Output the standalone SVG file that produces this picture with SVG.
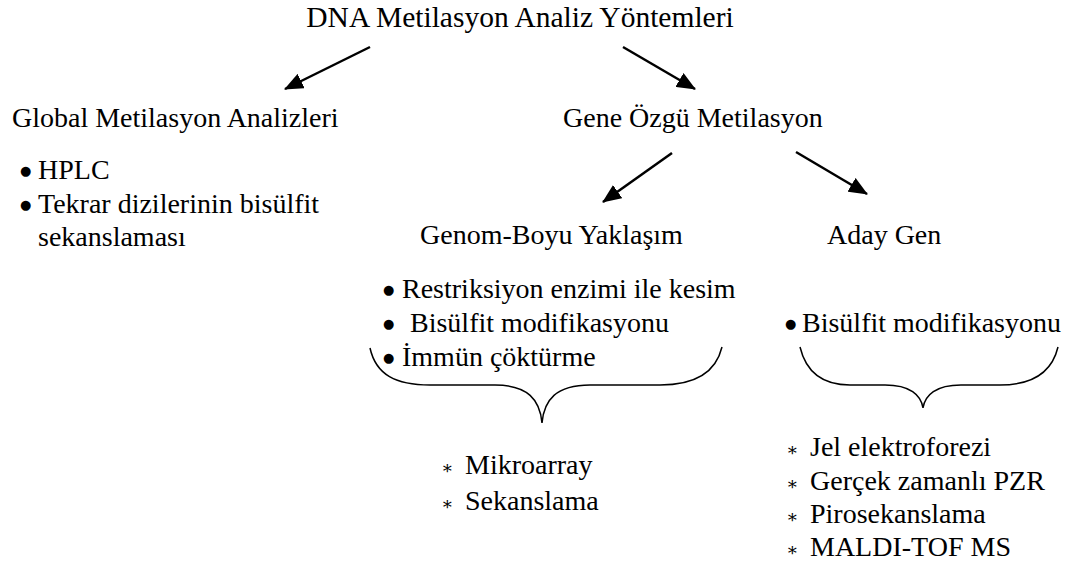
<svg xmlns="http://www.w3.org/2000/svg" width="1088" height="572" viewBox="0 0 1088 572">
<defs>
<style>
.t{font-family:"Liberation Serif","Times New Roman",serif;font-size:28px;fill:#000}
.h{font-family:"Liberation Serif","Times New Roman",serif;font-size:29.5px;fill:#000}
.b{font-family:"DejaVu Sans",sans-serif;font-size:13px;fill:#000}
.s{font-family:"DejaVu Serif","Liberation Serif",serif;font-size:18px;fill:#000}
.c{stroke:#000;stroke-width:2.5;fill:none}
.br{stroke:#000;stroke-width:1.5;fill:none}
</style>
<marker id="ah" markerUnits="userSpaceOnUse" markerWidth="19" markerHeight="16" refX="18" refY="8" orient="auto">
<path d="M0,0 L19,8 L0,16 z" fill="#000"/>
</marker>
</defs>
<rect width="1088" height="572" fill="#fff"/>
<g id="connectors">
<line class="c" x1="370" y1="47" x2="285" y2="89" marker-end="url(#ah)"/>
<line class="c" x1="623" y1="47" x2="695" y2="89" marker-end="url(#ah)"/>
<line class="c" x1="672" y1="153" x2="603" y2="202" marker-end="url(#ah)"/>
<line class="c" x1="796" y1="152" x2="867" y2="194" marker-end="url(#ah)"/>
<path class="br" d="M370,348 C376,375 396,385 430,385 L495,385 C528,385 540,400 542,423 C544,400 556,385 590,385 L660,385 C696,385 716,372 722,347"/>
<path class="br" d="M800,347 C806,372 822,385 850,385 L885,385 C910,385 921,395 923,408 C925,395 936,385 961,385 L1000,385 C1034,385 1052,372 1058,347"/>
</g>
<g id="root"><text class="h" x="520" y="27" text-anchor="middle">DNA Metilasyon Analiz Yöntemleri</text></g>
<g id="global">
<text class="t" x="12" y="127">Global Metilasyon Analizleri</text>
<text class="b" x="20" y="175">●</text><text class="t" x="38" y="179">HPLC</text>
<text class="b" x="20" y="209">●</text><text class="t" x="38" y="213">Tekrar dizilerinin bisülfit</text>
<text class="t" x="38" y="246">sekanslaması</text>
</g>
<g id="gene"><text class="t" x="563" y="127">Gene Özgü Metilasyon</text></g>
<g id="genom">
<text class="t" x="420" y="244">Genom-Boyu Yaklaşım</text>
<text class="b" x="383" y="294">●</text><text class="t" x="402" y="298">Restriksiyon enzimi ile kesim</text>
<text class="b" x="383" y="328">●</text><text class="t" x="410" y="332">Bisülfit modifikasyonu</text>
<text class="b" x="383" y="362">●</text><text class="t" x="402" y="366">İmmün çöktürme</text>
</g>
<g id="genom-results">
<text class="s" x="441" y="474">∗</text><text class="t" x="465" y="474">Mikroarray</text>
<text class="s" x="441" y="510">∗</text><text class="t" x="465" y="510">Sekanslama</text>
</g>
<g id="aday">
<text class="t" x="827" y="244">Aday Gen</text>
<text class="b" x="785" y="328">●</text><text class="t" x="802" y="332">Bisülfit modifikasyonu</text>
</g>
<g id="aday-results">
<text class="s" x="786" y="456">∗</text><text class="t" x="810" y="456">Jel elektroforezi</text>
<text class="s" x="786" y="490">∗</text><text class="t" x="810" y="490">Gerçek zamanlı PZR</text>
<text class="s" x="786" y="523">∗</text><text class="t" x="810" y="523">Pirosekanslama</text>
<text class="s" x="786" y="556">∗</text><text class="t" x="810" y="556">MALDI-TOF MS</text>
</g>
</svg>
